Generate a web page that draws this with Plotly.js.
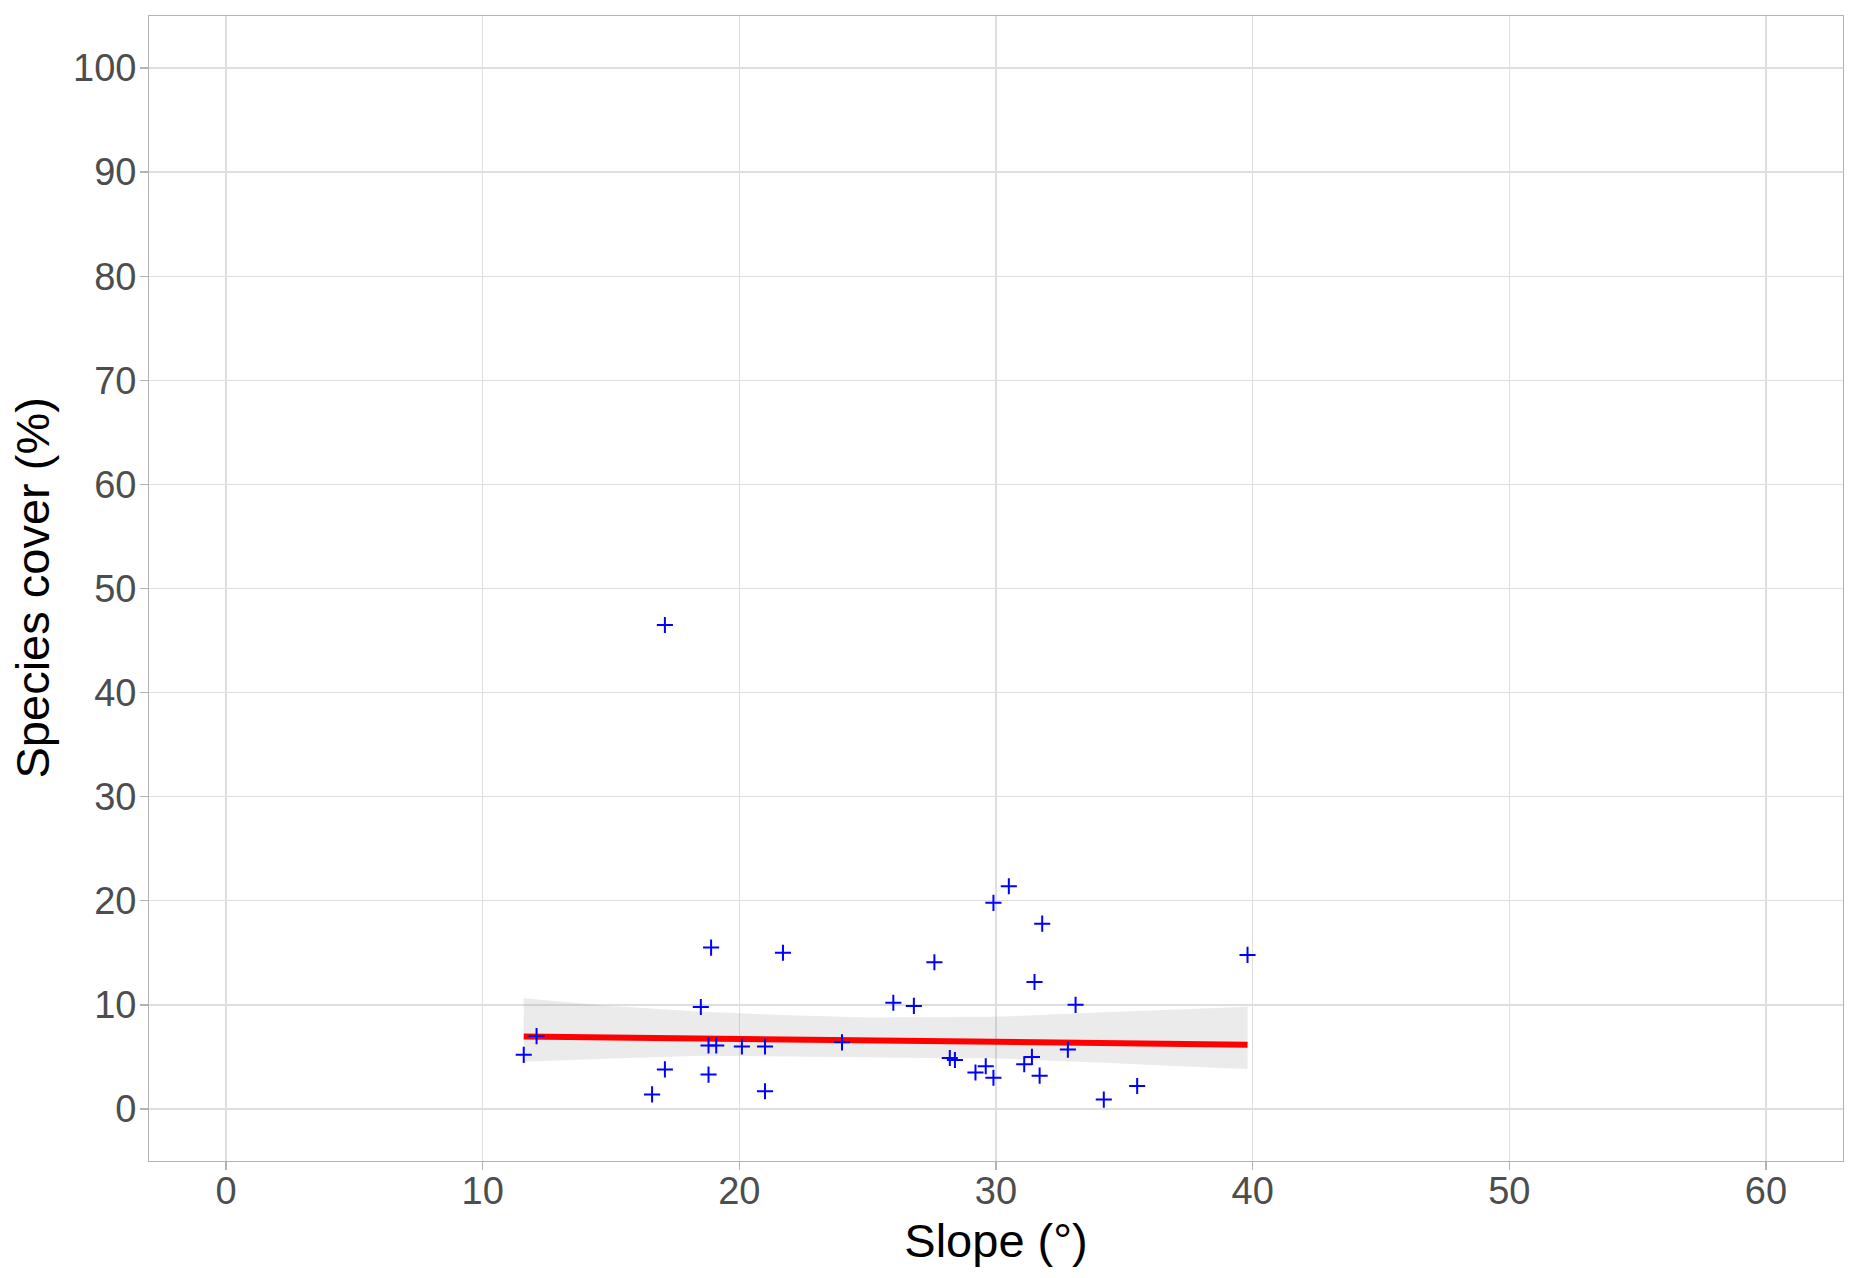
<!DOCTYPE html>
<html>
<head>
<meta charset="utf-8">
<script src="https://cdn.plot.ly/plotly-3.0.1.min.js"></script>
<style>html,body{margin:0;padding:0;background:#fff;}#chart{width:1855px;height:1278px;}</style>
</head>
<body>
<div id="chart"></div>
<script>
// Observed points: slope (°) and species cover (%)
const slope = [17.1, 18.9, 21.7, 18.5, 12.1, 11.6, 18.8, 19.1, 20.1, 21.0, 24.0, 17.1, 18.8, 16.6, 21.0, 26.0, 26.8,
               30.5, 29.9, 31.8, 27.6, 39.8, 31.5, 33.1, 32.8, 28.2, 28.4, 29.6, 29.2, 29.9, 31.4, 31.1, 31.7, 34.2, 35.5];
const cover = [46.5, 15.5, 15.0, 9.8, 7.0, 5.2, 6.1, 6.1, 6.0, 6.0, 6.4, 3.8, 3.3, 1.4, 1.7, 10.2, 9.9,
               21.4, 19.8, 17.8, 14.1, 14.8, 12.2, 10.0, 5.7, 4.9, 4.7, 4.1, 3.5, 3.0, 5.0, 4.3, 3.2, 0.9, 2.2];

// Fitted trend line
const fitX = [11.6, 39.8];
const fitY = [6.97, 6.17];

// Confidence band
const bandX     = [11.6, 15.0, 18.6, 22.0, 25.0, 27.6, 30.0, 34.0, 38.7, 39.8];
const bandUpper = [10.64, 9.90, 9.33, 9.00, 8.79, 8.79, 8.85, 9.27, 9.74, 9.81];
const bandLower = [4.54, 4.85, 5.11, 5.05, 4.95, 4.90, 4.86, 4.47, 3.93, 3.84];

const xTicks = [0, 10, 20, 30, 40, 50, 60];
const yTicks = [0, 10, 20, 30, 40, 50, 60, 70, 80, 90, 100];

const xTitle = 'Slope (°)';
const yTitle = 'Species cover (%)';

const FONT = "'Liberation Sans', Arial, Helvetica, sans-serif";

const ribbon = {
  x: bandX.concat(bandX.slice().reverse()),
  y: bandUpper.concat(bandLower.slice().reverse()),
  type: 'scatter', mode: 'lines', fill: 'toself',
  fillcolor: 'rgba(153,153,153,0.2)', line: {width: 0, color: 'rgba(0,0,0,0)'},
  hoverinfo: 'skip', showlegend: false
};
const fit = {
  x: fitX, y: fitY, type: 'scatter', mode: 'lines',
  line: {color: '#FF0000', width: 6}, showlegend: false
};
const pts = {
  x: slope, y: cover, type: 'scatter', mode: 'markers',
  marker: {symbol: 'cross-thin-open', size: 11.5, color: '#0000FF', line: {color: '#0000FF', width: 2}},
  showlegend: false
};

const axisCommon = {
  showgrid: true, gridcolor: '#DEDEDE', gridwidth: 1.3,
  zeroline: false,
  showline: true, mirror: true, linecolor: '#B3B3B3', linewidth: 1.4,
  ticks: 'outside', ticklen: 7.5, tickwidth: 1.3, tickcolor: '#B3B3B3',
  tickfont: {family: FONT, size: 38, color: '#4D4D4D'},
  tickmode: 'array'
};

const layout = {
  width: 1855, height: 1278,
  margin: {l: 149, r: 12, t: 16, b: 117, pad: 0},
  paper_bgcolor: '#FFFFFF', plot_bgcolor: '#FFFFFF',
  xaxis: Object.assign({}, axisCommon, {
    range: [-3, 63], tickvals: xTicks, ticktext: xTicks.map(String),
    ticklabelstandoff: -12,
    title: {text: xTitle, font: {family: FONT, size: 47, color: '#000000'}, standoff: 13}
  }),
  yaxis: Object.assign({}, axisCommon, {
    range: [-5, 105], tickvals: yTicks, ticktext: yTicks.map(String),
    ticklabelstandoff: -4
  }),
  annotations: [{
    text: yTitle, textangle: -90, showarrow: false,
    xref: 'paper', yref: 'paper', x: 0, y: 0.5, xanchor: 'center', yanchor: 'middle',
    xshift: -117, font: {family: FONT, size: 47, color: '#000000'}
  }],
  showlegend: false
};

Plotly.newPlot('chart', [ribbon, fit, pts], layout, {staticPlot: true, displayModeBar: false});
</script>
</body>
</html>
